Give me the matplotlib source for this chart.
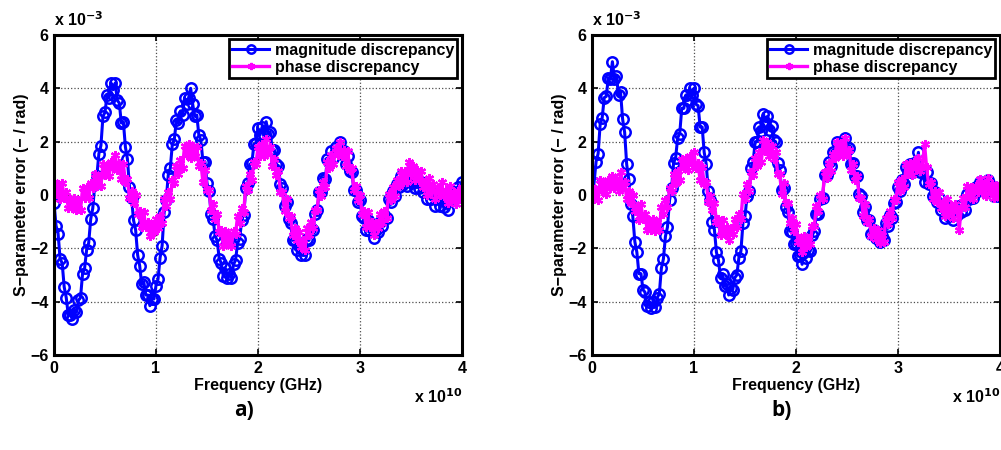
import numpy as np
import matplotlib
matplotlib.use('Agg')
import matplotlib.pyplot as plt

# frequency axis in units of 1e10 Hz (step 0.02)
freq = np.round(np.arange(0, 4.0001, 0.02), 2)

# values in units of 1e-3 (noisy bands)
mag_a = [-0.3, -1.15, -1.45, -2.4, -2.55, -3.45, -3.85, -4.5, -4.5, -4.65,
         -4.3, -4.4, -3.95, -3.85, -2.95, -2.75, -2.05, -1.8, -0.9, -0.5,
         0.4, 0.7, 1.55, 1.85, 2.95, 3.1, 3.75, 3.65, 4.2, 3.95,
         4.2, 3.55, 3.45, 2.7, 2.75, 1.8, 1.35, 0.3, -0.1, -0.95,
         -1.3, -2.25, -2.65, -3.35, -3.25, -3.75, -3.75, -4.15, -3.9, -3.9,
         -3.4, -3.15, -2.35, -1.9, -0.65, -0.2, 0.75, 1.0, 1.9, 2.1,
         2.8, 2.7, 3.15, 3.0, 3.65, 3.4, 3.65, 4.0, 3.4, 2.95,
         3.0, 2.25, 2.05, 1.25, 1.25, 0.45, 0.15, -0.7, -0.9, -1.55,
         -1.7, -2.4, -2.55, -3.05, -2.75, -3.1, -2.95, -3.1, -2.6, -2.45,
         -1.8, -1.65, -0.95, -0.75, 0.25, 0.45, 1.15, 1.2, 1.9, 1.95,
         2.5, 2.25, 2.55, 2.25, 2.75, 2.3, 2.35, 1.7, 1.7, 1.15,
         1.1, 0.4, 0.25, -0.4, -0.25, -0.9, -1.05, -1.7, -1.7, -2.05,
         -1.9, -2.25, -2.05, -2.25, -1.65, -1.7, -1.25, -1.3, -0.7, -0.55,
         0.1, 0.1, 0.65, 0.6, 1.35, 1.25, 1.65, 1.4, 1.8, 1.65,
         2.0, 1.55, 1.65, 1.15, 1.45, 0.9, 0.85, 0.2, 0.2, -0.25,
         -0.2, -0.8, -0.85, -1.3, -0.95, -1.35, -1.25, -1.6, -1.3, -1.4,
         -1.0, -1.15, -0.75, -0.85, -0.15, -0.25, 0.15, -0.05, 0.4, 0.3,
         0.7, 0.4, 0.65, 0.35, 0.85, 0.5, 0.65, 0.25, 0.5, 0.25,
         0.5, 0.1, 0.25, -0.15, 0.25, -0.15, 0.0, -0.4, -0.15, -0.4,
         -0.1, -0.45, -0.25, -0.55, 0.0, -0.2, 0.1, -0.1, 0.3, 0.15,
         0.5]
phase_a = [0.5, 0.05, 0.4, -0.15, 0.45, -0.1, 0.1, -0.5, -0.15, -0.5,
           -0.1, -0.55, -0.2, -0.55, 0.25, -0.1, 0.3, -0.1, 0.45, 0.25,
           0.8, 0.35, 0.7, 0.35, 1.15, 0.75, 1.1, 0.7, 1.25, 1.0,
           1.5, 0.95, 1.2, 0.6, 1.15, 0.5, 0.6, -0.1, 0.15, -0.3,
           0.0, -0.7, -0.6, -1.2, -0.65, -1.2, -1.0, -1.55, -1.15, -1.4,
           -0.9, -1.25, -0.8, -1.05, -0.15, -0.4, 0.1, -0.15, 0.55, 0.45,
           1.1, 0.8, 1.3, 1.0, 1.85, 1.5, 1.9, 1.4, 1.85, 1.45,
           1.8, 1.1, 1.2, 0.5, 0.95, 0.2, 0.2, -0.55, -0.35, -0.9,
           -0.7, -1.4, -1.3, -1.9, -1.35, -1.8, -1.5, -1.9, -1.35, -1.45,
           -0.8, -1.05, -0.5, -0.65, 0.35, 0.2, 0.8, 0.55, 1.25, 1.15,
           1.8, 1.45, 1.9, 1.45, 2.1, 1.6, 1.8, 1.1, 1.35, 0.75,
           0.9, 0.1, 0.1, -0.6, -0.15, -0.85, -0.8, -1.5, -1.25, -1.7,
           -1.4, -1.95, -1.7, -2.05, -1.25, -1.5, -1.0, -1.25, -0.55, -0.55,
           0.2, -0.05, 0.5, 0.3, 1.25, 1.0, 1.5, 1.15, 1.75, 1.5,
           2.0, 1.45, 1.7, 1.1, 1.65, 0.95, 1.0, 0.2, 0.35, -0.2,
           0.0, -0.7, -0.6, -1.2, -0.65, -1.2, -1.0, -1.5, -1.05, -1.25,
           -0.7, -1.05, -0.6, -0.85, 0.05, -0.2, 0.3, -0.05, 0.55, 0.35,
           0.9, 0.5, 0.9, 0.5, 1.25, 0.8, 1.1, 0.55, 0.95, 0.55,
           0.9, 0.3, 0.5, 0.0, 0.65, 0.15, 0.4, -0.15, 0.25, 0.0,
           0.5, -0.05, 0.2, -0.3, 0.35, -0.15, 0.1, -0.35, 0.15, -0.15,
           0.3]
mag_b = [0.2, 0.45, 1.25, 1.55, 2.65, 2.9, 3.65, 3.7, 4.4, 4.35,
         5.0, 4.35, 4.45, 3.75, 3.85, 2.85, 2.35, 1.15, 0.6, -0.35,
         -0.8, -1.75, -2.15, -2.95, -2.95, -3.55, -3.65, -4.15, -4.0, -4.25,
         -4.0, -4.2, -3.85, -3.7, -2.75, -2.4, -1.55, -1.2, -0.2, 0.25,
         1.2, 1.4, 2.15, 2.3, 3.25, 3.25, 3.75, 3.55, 4.0, 3.75,
         4.0, 3.4, 3.35, 2.55, 2.55, 1.6, 1.15, 0.15, -0.2, -1.0,
         -1.3, -2.15, -2.45, -3.1, -2.95, -3.4, -3.35, -3.75, -3.5, -3.55,
         -3.1, -3.0, -2.35, -2.1, -1.05, -0.8, -0.05, 0.15, 1.0, 1.25,
         2.0, 2.0, 2.55, 2.4, 3.05, 2.75, 2.95, 2.45, 2.6, 2.05,
         2.0, 1.2, 0.95, 0.2, 0.25, -0.45, -0.65, -1.35, -1.4, -1.85,
         -1.8, -2.3, -2.25, -2.6, -2.15, -2.35, -2.05, -2.1, -1.5, -1.35,
         -0.7, -0.7, -0.15, -0.1, 0.75, 0.75, 1.25, 1.1, 1.6, 1.55,
         2.0, 1.7, 1.95, 1.65, 2.15, 1.7, 1.75, 1.15, 1.2, 0.7,
         0.7, 0.05, -0.05, -0.65, -0.45, -0.95, -0.95, -1.45, -1.3, -1.6,
         -1.4, -1.75, -1.55, -1.7, -1.05, -1.15, -0.75, -0.85, -0.3, -0.25,
         0.3, 0.15, 0.55, 0.4, 1.05, 0.85, 1.15, 0.85, 1.2, 1.0,
         1.6, 0.85, 0.95, 0.5, 0.85, 0.4, 0.45, -0.05, 0.1, -0.25,
         -0.1, -0.55, -0.45, -0.85, -0.45, -0.8, -0.65, -0.95, -0.6, -0.75,
         -0.4, -0.65, -0.35, -0.55, 0.05, -0.15, 0.15, -0.1, 0.3, 0.15,
         0.5, 0.2, 0.45, 0.1, 0.55, 0.2, 0.35, -0.05, 0.2, -0.05,
         0.2]
phase_b = [0.3, -0.15, 0.2, -0.2, 0.55, 0.15, 0.5, 0.05, 0.55, 0.25,
           0.7, 0.25, 0.6, 0.15, 0.85, 0.3, 0.5, -0.15, 0.15, -0.3,
           0.0, -0.6, -0.4, -0.95, -0.35, -0.9, -0.7, -1.3, -0.95, -1.3,
           -0.9, -1.35, -1.0, -1.3, -0.45, -0.7, -0.2, -0.45, 0.25, 0.15,
           0.8, 0.45, 0.9, 0.55, 1.35, 1.0, 1.4, 0.95, 1.45, 1.15,
           1.6, 1.0, 1.2, 0.55, 1.05, 0.4, 0.5, -0.25, -0.05, -0.55,
           -0.3, -1.0, -0.9, -1.5, -0.95, -1.45, -1.2, -1.7, -1.25, -1.45,
           -0.9, -1.2, -0.7, -0.9, 0.05, -0.15, 0.4, 0.15, 0.85, 0.75,
           1.4, 1.1, 1.6, 1.25, 2.05, 1.65, 2.0, 1.45, 1.85, 1.35,
           1.6, 0.8, 0.8, 0.05, 0.45, -0.3, -0.3, -1.05, -0.85, -1.35,
           -1.1, -1.75, -1.6, -2.15, -1.55, -1.95, -1.6, -1.85, -1.15, -1.15,
           -0.4, -0.6, 0.0, -0.15, 0.85, 0.65, 1.2, 0.9, 1.55, 1.4,
           2.0, 1.55, 1.9, 1.45, 2.15, 1.55, 1.7, 0.95, 1.15, 0.55,
           0.7, -0.1, -0.1, -0.8, -0.35, -1.0, -0.9, -1.55, -1.25, -1.65,
           -1.3, -1.8, -1.5, -1.75, -0.85, -1.1, -0.6, -0.85, -0.15, -0.2,
           0.5, 0.15, 0.6, 0.3, 1.15, 0.8, 1.2, 0.75, 1.25, 1.0,
           1.4, 0.9, 1.1, 1.9, 1.05, 0.4, 0.5, -0.15, 0.15, -0.25,
           0.1, -0.5, -0.3, -0.8, -0.15, -0.65, -0.4, -0.85, -0.35, -0.6,
           -1.3, -0.5, -0.1, -0.45, 0.35, -0.05, 0.3, -0.15, 0.35, 0.1,
           0.6, 0.1, 0.4, -0.05, 0.65, 0.15, 0.4, -0.1, 0.35, 0.0,
           0.4]

panels = [('a)', mag_a, phase_a), ('b)', mag_b, phase_b)]
xticks = [0, 1, 2, 3, 4]
yticks = [-6, -4, -2, 0, 2, 4, 6]

plt.rcParams['font.family'] = ['Liberation Sans', 'DejaVu Sans']
plt.rcParams['font.weight'] = 'bold'
fs = 11.5

fig = plt.figure(figsize=(10.01, 4.5), dpi=100)
lefts = [54 / 1001, 592 / 1001]
asterisk = (6, 2, 0)

for left, (tag, mag, ph) in zip(lefts, panels):
    ax = fig.add_axes([left, 95 / 450, 408 / 1001, 320 / 450])
    ax.plot(freq, mag, '-', marker='o', color='blue', lw=2.2, ms=7.5,
            mfc='none', mew=1.8, label='magnitude discrepancy')
    ax.plot(freq, ph, '-', marker=asterisk, color='magenta', lw=2.4, ms=6.5,
            mew=1.6, label='phase discrepancy')
    ax.set_xlim(0, 4)
    ax.set_ylim(-6, 6)
    ax.set_xticks(xticks)
    ax.set_yticks(yticks)
    ax.grid(True, ls=':', color='0.3', lw=0.9)
    ax.tick_params(direction='in', top=True, right=True, length=4, width=1.2,
                   labelsize=fs, pad=4)
    for lab in ax.get_xticklabels() + ax.get_yticklabels():
        lab.set_fontweight('bold')
    for sp in ax.spines.values():
        sp.set_linewidth(2.2)
    ax.set_xlabel('Frequency (GHz)', fontsize=fs, fontweight='bold', labelpad=2)
    ax.set_ylabel('S\u2212parameter error (\u2212 / rad)', fontsize=fs,
                  fontweight='bold', labelpad=1)
    ax.text(0.0, 1.02, r'x 10$^{\mathbf{-3}}$', transform=ax.transAxes,
            fontsize=fs, fontweight='bold', ha='left', va='bottom')
    ax.text(1.0, -0.10, r'x 10$^{\mathbf{10}}$', transform=ax.transAxes,
            fontsize=fs, fontweight='bold', ha='right', va='top')
    leg = ax.legend(loc='upper right', bbox_to_anchor=(0.988, 0.986),
                    fontsize=fs, handlelength=2.3, borderpad=0.2,
                    labelspacing=0.15, handletextpad=0.35, fancybox=False,
                    framealpha=1, borderaxespad=0, markerscale=0.8)
    leg.get_frame().set_edgecolor('black')
    leg.get_frame().set_linewidth(2.0)
    for t in leg.get_texts():
        t.set_fontweight('bold')
    fig.text(left + 190 / 1001, 1 - 410 / 450, tag, fontsize=15,
             fontweight='bold', ha='center', va='center',
             family=['Open Sans', 'DejaVu Sans'])

plt.savefig('out.png', dpi=100)
